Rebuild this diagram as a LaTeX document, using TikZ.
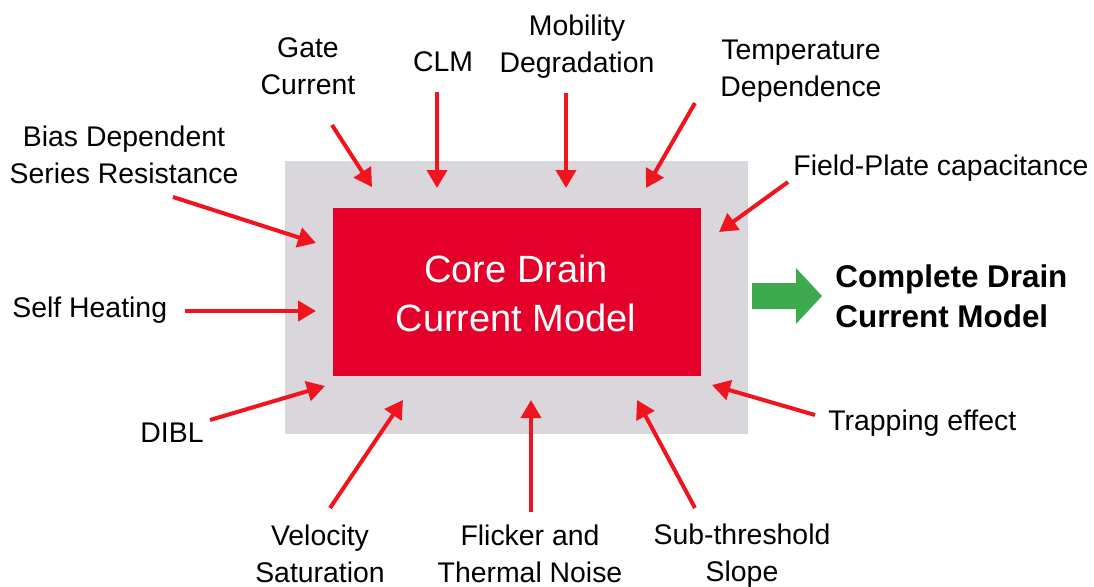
\documentclass[tikz,border=0pt]{standalone}
\usepackage{fontspec}
\setmainfont{Liberation Sans}
\usetikzlibrary{arrows.meta}
\definecolor{arrred}{RGB}{240,20,30}
\definecolor{boxred}{RGB}{228,0,43}
\definecolor{boxgray}{RGB}{217,215,220}
\definecolor{okgreen}{RGB}{61,170,79}
\begin{document}
\begin{tikzpicture}[x=0.5pt,y=-0.5pt,
  lbl/.style={font=\fontsize{14.2}{18.5}\selectfont, align=center, inner sep=0pt},
  feed/.style={draw=arrred, line width=2pt, -{Triangle[length=9pt,width=10pt]}},
  box/.style={inner sep=0pt, outer sep=0pt}]
\useasboundingbox (0,0) rectangle (1094,586);
% boxes
\node[box, fill=boxgray, minimum width=231.5pt, minimum height=136.5pt] (gray) at (516.5,297.5) {};
\node[box, fill=boxred, minimum width=184pt, minimum height=84pt] (core) at (517,292) {};
\node[lbl, text=white, font=\fontsize{19}{24.5}\selectfont] (coretxt) at (516,293) {Core Drain\\Current Model};
% output arrow
\fill[okgreen] (752,283) -- (796,283) -- (796,268) -- (822,296) -- (796,324) -- (796,309) -- (752,309) -- cycle;
\node[lbl, anchor=west, align=left, font=\bfseries\fontsize{15.7}{20}\selectfont] (complete) at (835,296) {Complete Drain\\Current Model};
% labels
\node[lbl] (gate) at (308,66) {Gate\\Current};
\node[lbl] (clm) at (443,62) {CLM};
\node[lbl] (mob) at (577,47) {Mobility\\Degradation};
\node[lbl] (temp) at (801,71) {Temperature\\Dependence};
\node[lbl] (bias) at (124,155) {Bias Dependent\\Series Resistance};
\node[lbl, anchor=base west] (field) at (793,175) {Field-Plate capacitance};
\node[lbl, anchor=base west] (self) at (12,317) {Self Heating};
\node[lbl, anchor=base] (dibl) at (172,442) {DIBL};
\node[lbl, anchor=base west] (trap) at (828,430) {Trapping effect};
\node[lbl] (vel) at (320,554) {Velocity\\Saturation};
\node[lbl] (flick) at (530,554) {Flicker and\\Thermal Noise};
\node[lbl] (sub) at (742,556) {Sub-threshold\\Slope};
% arrow endpoints
\coordinate (gateS) at (332,125);  \coordinate (gateE) at (372,187);
\coordinate (clmS) at (437,92);    \coordinate (clmE) at (437,188);
\coordinate (mobS) at (566,93);    \coordinate (mobE) at (566,188);
\coordinate (tempS) at (695,103);  \coordinate (tempE) at (646,188);
\coordinate (fieldS) at (788,182); \coordinate (fieldE) at (719,232);
\coordinate (biasS) at (173,197);  \coordinate (biasE) at (316,243);
\coordinate (selfS) at (185,311);  \coordinate (selfE) at (316,311);
\coordinate (diblS) at (210,420);  \coordinate (diblE) at (325,386);
\coordinate (velS) at (330,508);   \coordinate (velE) at (403,400);
\coordinate (flickS) at (531,512); \coordinate (flickE) at (531,400);
\coordinate (subS) at (695,508);   \coordinate (subE) at (637,400);
\coordinate (trapS) at (815,415);  \coordinate (trapE) at (712,385);
\foreach \n in {gate,clm,mob,temp,field,bias,self,dibl,vel,flick,sub,trap}
  \draw[feed] (\n S) -- (\n E);
\end{tikzpicture}
\end{document}
